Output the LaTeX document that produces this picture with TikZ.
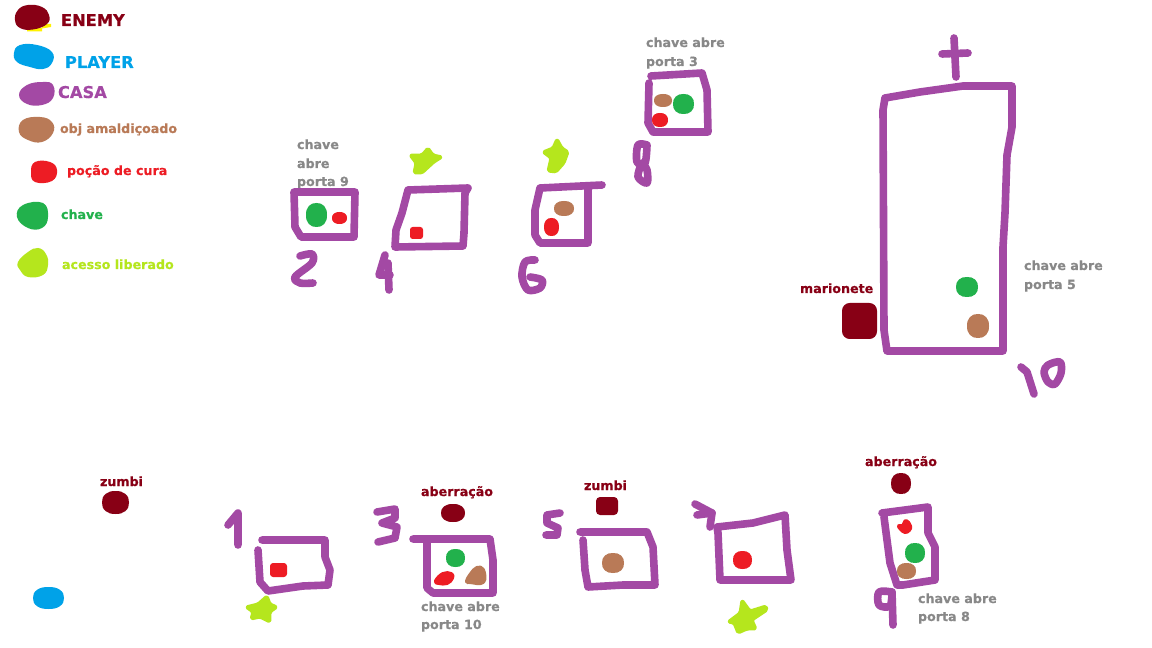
\documentclass[tikz,border=0pt]{standalone}
\usepackage{fontspec}
\setmainfont{DejaVu Sans}[BoldFeatures={FakeBold=0.4}]
\definecolor{enemyc}{HTML}{880015}
\definecolor{playerc}{HTML}{00A2E8}
\definecolor{casac}{HTML}{A349A4}
\definecolor{objc}{HTML}{B97A57}
\definecolor{redc}{HTML}{ED1C24}
\definecolor{keyc}{HTML}{22B14C}
\definecolor{limec}{HTML}{B5E61D}
\definecolor{grayc}{HTML}{888888}
\definecolor{yelc}{HTML}{FFF200}
\newcommand\blob[5]{%
  \pgfmathsetmacro\mxa{#2+0.13*(#4-#2)}\pgfmathsetmacro\mxb{#4-0.13*(#4-#2)}\pgfmathsetmacro\mxc{(#2+#4)/2}%
  \pgfmathsetmacro\mya{#3+0.13*(#5-#3)}\pgfmathsetmacro\myb{#5-0.13*(#5-#3)}\pgfmathsetmacro\myc{(#3+#5)/2}%
  \fill[#1] plot[smooth cycle,tension=0.75] coordinates {(#2,\myc) (\mxa,\mya) (\mxc,#3) (\mxb,\mya) (#4,\myc) (\mxb,\myb) (\mxc,#5) (\mxa,\myb)};}
\newcommand\sq[5]{%
  \pgfmathsetmacro\myr{0.75*0.22*min(abs(#4-#2),abs(#5-#3))}%
  \fill[#1,rounded corners=\myr pt] (#2,#3) rectangle (#4,#5);}
\tikzset{
  hand/.style={draw=casac,line width=5.7pt,line cap=round,line join=round},
  digit/.style={hand,smooth,tension=0.55},
  txt/.style={anchor=base west,inner sep=0pt,outer sep=0pt,font=\bfseries\fontsize{#1}{#1}\selectfont},
  txt/.default=9.5,
  starc/.style={fill=limec,draw=limec,line width=2.2pt,line join=round,rounded corners=1.2pt},
  grayt/.style={txt,text=grayc},
  redt/.style={txt,text=enemyc},
  organic/.style={smooth cycle,tension=0.75},
  softblob/.style={fill=#1,draw=#1,line width=3pt,line join=round}
}
\begin{document}
\begin{tikzpicture}[x=0.75pt,y=-0.75pt]
\useasboundingbox (0,0) rectangle (1152,648);
\fill[white] (0,0) rectangle (1152,648);
% legend
\fill[yelc] (27,28) -- (42,28) -- (42,24) -- (51,24) -- (51,27) -- (42,28.5) -- (42,31.5) -- (27,31.5) -- cycle;
\fill[enemyc] plot[organic] coordinates {(15,20) (18,10) (28,5) (42,7) (49,15) (47,24) (33,29.5) (20,28)};
\fill[playerc] plot[organic] coordinates {(14,53) (20,45) (37,45) (52,52) (52,63) (43,69) (30,67) (17,62)};
\fill[casac] plot[organic] coordinates {(19,95) (27,85) (43,82) (53,85) (53,98) (42,105) (27,104)};
\fill[objc] plot[organic] coordinates {(19,132) (23,120) (40,117) (52,122) (53,133) (42,142) (28,140)};
\fill[redc] plot[organic] coordinates {(31,172) (35,162) (50,162) (57,170) (52,181) (35,182)};
\fill[keyc] plot[organic] coordinates {(17,217) (23,205) (43,203) (48,217) (42,228) (28,228)};
\fill[limec] plot[organic] coordinates {(18,262) (28,252) (38,248) (46,254) (48,265) (43,275) (28,277) (20,270)};
\node[txt=12.2,text=enemyc] (tenemy) at (61,26) {ENEMY};
\node[txt=12.2,text=playerc] (tplayer) at (65,68) {PLAYER};
\node[txt=12.2,text=casac] (tcasa) at (58,98) {CASA};
\node[txt,text=objc] (tobj) at (60,133) {obj amaldiçoado};
\node[txt,text=redc] (tcura) at (67,175) {poção de cura};
\node[txt,text=keyc] (tchave) at (61,219) {chave};
\node[txt,text=limec] (tacesso) at (62,269) {acesso liberado};
% upper row
\node[grayt] (t2a) at (297,149) {chave};
\node[grayt] (t2b) at (297,168) {abre};
\node[grayt] (t2c) at (297,186) {porta 9};
\draw[hand] (294,192) -- (355,192) -- (354,237) -- (301,237) -- (295,227) -- cycle;
\blob{keyc}{306}{203}{327}{227}
\blob{redc}{332}{212}{347}{224}
\draw[digit] plot coordinates {(300,256) (312,254) (312,263) (295,277) (300,283) (313,283)};
\draw[hand] (408,190) -- (468,188) -- (465,193) -- (464,233) -- (463,246) -- (395,247) -- (396,230) -- (402,213) -- cycle;
\sq{redc}{410}{227}{423}{239}
\fill[starc] (428,148) -- (433,155) -- (442,157) -- (434,162) -- (422,173) -- (414,173) -- (416,163) -- (410,155) -- (422,155) -- cycle;
\draw[hand] (385,255) -- (379,275) -- (390,275);
\draw[hand] (388,263) -- (389,290);
\draw[hand] (602,185) -- (540,188) -- (535,210) -- (535,235) -- (540,243) -- (588,243) -- (588,186);
\blob{objc}{554}{201}{574}{216}
\blob{redc}{544}{218}{559}{236}
\fill[starc] (557,139) -- (562,148) -- (568,152) -- (564,163) -- (556,172) -- (548,171) -- (551,158) -- (543,152) -- (553,148) -- cycle;
\draw[digit] plot coordinates {(535,260) (525,262) (522,277) (528,290) (540,288) (542,280) (530,277)};
\node[grayt] (t8a) at (646,47) {chave abre};
\node[grayt] (t8b) at (646,66) {porta 3};
\draw[hand] (651,76) -- (702,73) -- (707,90) -- (708,132) -- (653,132) -- (648,123) -- (649,83);
\blob{objc}{654}{94}{672}{107}
\blob{keyc}{673}{94}{694}{114}
\blob{redc}{652}{113}{668}{127}
\draw[digit] plot coordinates {(647,145) (638,145) (637,162) (645,163) (647,145)};
\draw[digit] plot coordinates {(641,165) (638,177) (647,183) (647,170) (642,163)};
% house 10
\draw[hand] (885,98) -- (920,92) -- (963,86) -- (1012,86) -- (1012,127) -- (1007,155) -- (1005,213) -- (1003,247) -- (1003,351) -- (887,351) -- (884,330) -- (883,110) -- cycle;
\draw[hand] (954,38) -- (956,77);
\draw[hand] (942,54) -- (968,53);
\blob{keyc}{956}{277}{978}{297}
\blob{objc}{967}{314}{989}{338}
\sq{enemyc}{842}{303}{877}{339}
\node[redt] (tmar) at (800,293) {marionete};
\node[grayt] (t10a) at (1024,270) {chave abre};
\node[grayt] (t10b) at (1024,289) {porta 5};
\draw[hand] (1021,367) -- (1027,372) -- (1034,394);
\draw[digit] plot[smooth cycle] coordinates {(1048,365) (1060,362) (1061,373) (1055,384) (1048,382) (1044,372)};
% lower row
\node[redt] (tz1) at (100,486) {zumbi};
\blob{enemyc}{102}{491}{129}{514}
\blob{playerc}{33}{587}{64}{609}
\draw[hand] (228,525) -- (238,513) -- (238,545);
\draw[hand] (262,540) -- (325,540) -- (325,557) -- (330,570) -- (328,585) -- (303,586) -- (268,591) -- (260,582) -- (258,550);
\sq{redc}{270}{563}{287}{577}
\fill[starc] (267,596) -- (270,604) -- (277,607) -- (270,612) -- (270,622) -- (260,617) -- (251,619) -- (253,612) -- (246,607) -- (258,604) -- cycle;
\draw[hand] (377,512) -- (395,509) -- (395,518) -- (382,523) -- (397,527) -- (395,538) -- (378,542);
\draw[hand] (413,539) -- (490,539) -- (493,560) -- (493,593) -- (433,593) -- (427,588) -- (427,542);
\node[redt] (tab1) at (421,496) {aberração};
\blob{enemyc}{441}{504}{465}{522}
\blob{keyc}{446}{549}{465}{567}
\path[softblob=redc] plot[organic] coordinates {(436,581) (443,574) (451,574) (452,578) (447,583) (439,583)};
\path[softblob=objc] plot[organic] coordinates {(467,581) (471,574) (477,568) (483,570) (483,582) (470,582)};
\node[grayt] (t3a) at (421,611) {chave abre};
\node[grayt] (t3b) at (421,629) {porta 10};
\draw[hand] (560,513) -- (547,515) -- (547,523) -- (558,528) -- (557,535) -- (546,535);
\node[redt] (tz2) at (584,490) {zumbi};
\sq{enemyc}{596}{497}{618}{515}
\draw[hand] (580,532) -- (647,532) -- (653,547) -- (655,585) -- (623,585) -- (588,587) -- (585,570) -- (583,540);
\blob{objc}{602}{553}{624}{573}
\draw[hand] (695,504) -- (712,513) -- (710,527);
\draw[hand] (697,515) -- (712,513);
\draw[hand] (717,527) -- (753,523) -- (785,515) -- (787,550) -- (791,580) -- (720,580) -- (718,533) -- cycle;
\blob{redc}{733}{551}{752}{569}
\fill[starc] (742,600) -- (750,611) -- (766,606) -- (767,610) -- (752,620) -- (756,629) -- (747,629) -- (738,633) -- (734,623) -- (728,622) -- (740,613) -- cycle;
\node[redt] (tab2) at (865,466) {aberração};
\blob{enemyc}{891}{473}{911}{494}
\draw[hand] (882,513) -- (928,507) -- (928,533) -- (935,547) -- (935,580) -- (903,585) -- (897,585) -- (890,563) -- (884,517);
\path[softblob=redc] plot[organic] coordinates {(899,526) (903,526) (906,521) (910,526) (909,530) (905,532) (901,529)};
\blob{keyc}{905}{543}{925}{563}
\blob{objc}{897}{563}{916}{579}
\draw[digit] plot coordinates {(892,592) (879,592) (879,605) (890,606) (892,592)};
\draw[hand] (892,592) -- (893,625);
\node[grayt] (t9a) at (918,603) {chave abre};
\node[grayt] (t9b) at (918,621) {porta 8};
\end{tikzpicture}
\end{document}
